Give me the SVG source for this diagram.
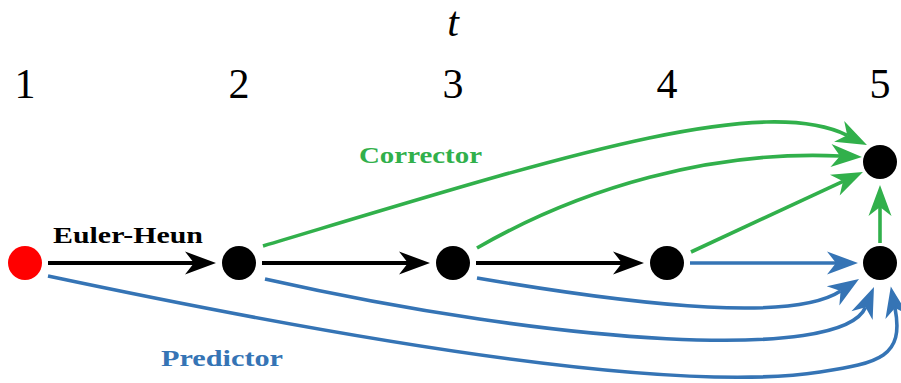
<svg xmlns="http://www.w3.org/2000/svg" width="901" height="383" viewBox="0 0 901 383">
<style>
.num{font-family:"Liberation Serif","Times New Roman",serif;font-size:42px;fill:#000;text-anchor:middle}
.lbl{font-family:"Liberation Serif","Times New Roman",serif;font-size:24px;font-weight:bold}
.k{fill:none;stroke:#000;stroke-width:3.8}
.g{fill:none;stroke:#31b04b;stroke-width:3.6}
.b{fill:none;stroke:#3574b5;stroke-width:3.6}
</style>
<defs>
<marker id="ak" markerUnits="userSpaceOnUse" markerWidth="40" markerHeight="30" refX="0" refY="0" orient="auto" overflow="visible"><path d="M22,0 L-9,-11.5 L0,0 L-9,11.5 Z" fill="#000"/></marker>
<marker id="ag" markerUnits="userSpaceOnUse" markerWidth="40" markerHeight="30" refX="0" refY="0" orient="auto" overflow="visible"><path d="M22,0 L-9,-11.5 L0,0 L-9,11.5 Z" fill="#31b04b"/></marker>
<marker id="ab" markerUnits="userSpaceOnUse" markerWidth="40" markerHeight="30" refX="0" refY="0" orient="auto" overflow="visible"><path d="M22,0 L-9,-11.5 L0,0 L-9,11.5 Z" fill="#3574b5"/></marker>
</defs>
<g id="labels">
<text x="453" y="36" class="num" font-style="italic" font-size="40">t</text>
<text x="25" y="98" class="num">1</text>
<text x="239" y="98" class="num">2</text>
<text x="453" y="98" class="num">3</text>
<text x="667" y="98" class="num">4</text>
<text x="880" y="98" class="num">5</text>
<text x="53" y="243" class="lbl" fill="#000" textLength="150" lengthAdjust="spacingAndGlyphs">Euler-Heun</text>
<text x="359" y="163" class="lbl" fill="#31b04b" textLength="123" lengthAdjust="spacingAndGlyphs">Corrector</text>
<text x="161" y="366" class="lbl" fill="#3574b5" textLength="122" lengthAdjust="spacingAndGlyphs">Predictor</text>
</g>
<g id="connectors">
<path class="k" d="M48,263 L194,263" marker-end="url(#ak)"/>
<path class="k" d="M262,263 L408,263" marker-end="url(#ak)"/>
<path class="k" d="M476,263 L622,263" marker-end="url(#ak)"/>
<path class="b" d="M690,263 L836,263" marker-end="url(#ab)"/>
<path class="g" d="M263,246 C550,160 759.2,92.1 847.2,135.3" marker-end="url(#ag)"/>
<path class="g" d="M477,248 C581,188 712,150 840,156" marker-end="url(#ag)"/>
<path class="g" d="M691,252 L843,181.3" marker-end="url(#ag)"/>
<path class="g" d="M880,243 L880,207" marker-end="url(#ag)"/>
<path class="b" d="M477,278 C653,308 794.6,321.1 840.6,291" marker-end="url(#ab)"/>
<path class="b" d="M265,279 C558,345 842.4,362.7 865.5,307.3" marker-end="url(#ab)"/>
<path class="b" d="M48,276 C341,338 670.6,395 820,372 C879.3,362.9 904.5,357 895,308" marker-end="url(#ab)"/>
</g>
<g id="n1"><circle cx="25" cy="263" r="17" fill="#ff0000"/></g>
<g id="n2"><circle cx="239" cy="263" r="17" fill="#000"/></g>
<g id="n3"><circle cx="453" cy="263" r="17" fill="#000"/></g>
<g id="n4"><circle cx="667" cy="263" r="17" fill="#000"/></g>
<g id="n5"><circle cx="880" cy="263" r="17" fill="#000"/></g>
<g id="n5c"><circle cx="880" cy="162" r="17" fill="#000"/></g>
</svg>
